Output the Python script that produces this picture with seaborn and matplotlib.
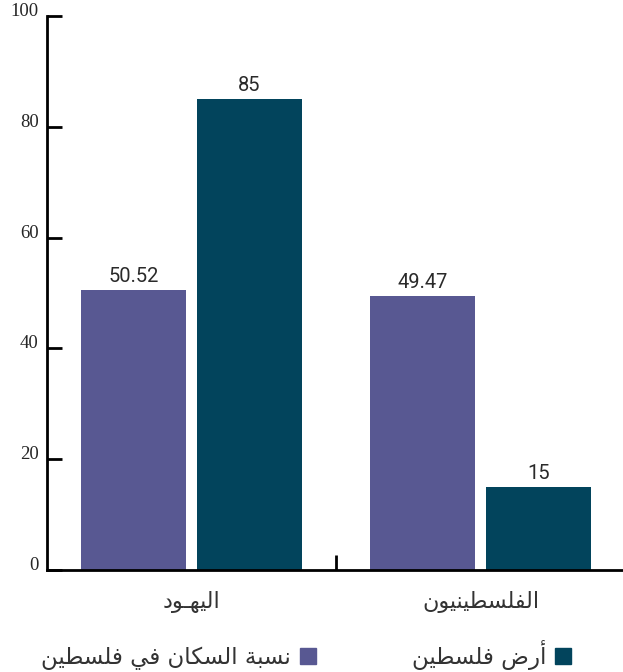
import pandas as pd
import matplotlib.pyplot as plt
from matplotlib.lines import Line2D
import seaborn as sns

# Data
groups = ['اليهـود', 'الفلسطينيون']
series = ['نسبة السكان في فلسطين', 'أرض فلسطين']
population_share = [50.52, 49.47]
land_share = [85, 15]
colors = ['#585892', '#02445c']

# matplotlib does no Arabic shaping, so pick presentation forms by hand
# (isolated, final, initial, medial)
FORMS = {
    'ا': ('\ufe8d', '\ufe8e', None, None),
    'أ': ('\ufe83', '\ufe84', None, None),
    'ب': ('\ufe8f', '\ufe90', '\ufe91', '\ufe92'),
    'ة': ('\ufe93', '\ufe94', None, None),
    'د': ('\ufea9', '\ufeaa', None, None),
    'ر': ('\ufead', '\ufeae', None, None),
    'س': ('\ufeb1', '\ufeb2', '\ufeb3', '\ufeb4'),
    'ض': ('\ufebd', '\ufebe', '\ufebf', '\ufec0'),
    'ط': ('\ufec1', '\ufec2', '\ufec3', '\ufec4'),
    'ف': ('\ufed1', '\ufed2', '\ufed3', '\ufed4'),
    'ك': ('\ufed9', '\ufeda', '\ufedb', '\ufedc'),
    'ل': ('\ufedd', '\ufede', '\ufedf', '\ufee0'),
    'ن': ('\ufee5', '\ufee6', '\ufee7', '\ufee8'),
    'ه': ('\ufee9', '\ufeea', '\ufeeb', '\ufeec'),
    'و': ('\ufeed', '\ufeee', None, None),
    'ي': ('\ufef1', '\ufef2', '\ufef3', '\ufef4'),
    'ـ': ('ـ', 'ـ', 'ـ', 'ـ'),
}


def joins_next(c):
    return c in FORMS and FORMS[c][2] is not None


def shape(text):
    out = []
    for i, c in enumerate(text):
        if c not in FORMS:
            out.append(c)
            continue
        prev = text[i - 1] if i > 0 else ''
        nxt = text[i + 1] if i + 1 < len(text) else ''
        a = joins_next(prev)
        b = joins_next(c) and nxt in FORMS
        iso, fin, ini, med = FORMS[c]
        if a and b:
            out.append(med)
        elif a:
            out.append(fin)
        elif b:
            out.append(ini)
        else:
            out.append(iso)
    return ''.join(out)[::-1]


df = pd.DataFrame({
    'group': groups * 2,
    'series': [series[0]] * 2 + [series[1]] * 2,
    'value': population_share + land_share,
})

sns.set_style("white")
plt.rcParams['font.family'] = ['DejaVu Sans']

fig = plt.figure(figsize=(6.23, 6.72), dpi=100)
ax = fig.add_axes([47 / 623, 102 / 672, 578 / 623, 554 / 672])

sns.barplot(
    data=df, x='group', y='value', hue='series',
    palette=colors, width=0.8, gap=0.095, saturation=1,
    linewidth=0, legend=False, ax=ax
)

for cont in ax.containers:
    ax.bar_label(cont, fmt='%g', padding=3, fontsize=14.5,
                 color='#2a2a2a', family=['Roboto', 'DejaVu Sans'])

ax.set_xlim(-0.5, 1.5)
ax.set_ylim(0, 100)
ax.set_xlabel('')
ax.set_ylabel('')

# y axis
ax.set_yticks([0, 20, 40, 60, 80, 100])
ax.tick_params(axis='y', left=True, direction='in', length=11, width=2,
               color='black', pad=6, labelsize=13.5)
for lab in ax.get_yticklabels():
    lab.set_family(['Liberation Serif'])
    lab.set_verticalalignment('baseline')

# x axis: category labels and a divider tick between the groups
ax.set_xticks([0, 1])
ax.set_xticklabels([shape(g) for g in groups], fontsize=16, color='#333333')
ax.set_xticks([0.5], minor=True)
ax.tick_params(axis='x', which='major', length=0, pad=15)
ax.tick_params(axis='x', which='minor', bottom=True, direction='in',
               length=11, width=2, color='black')

sns.despine(ax=ax)
for side in ['left', 'bottom']:
    ax.spines[side].set_color('black')
    ax.spines[side].set_linewidth(2)

# legend
handles = [Line2D([], [], marker='s', linestyle='', markersize=11,
                  color=c) for c in colors]
fig.legend(handles, [shape(s) for s in series], loc='center',
           bbox_to_anchor=(306 / 623, 1 - 655 / 672), ncol=2,
           frameon=False, markerfirst=False, handlelength=0.7,
           handletextpad=0.4, columnspacing=4.2,
           prop={'size': 16.5}, labelcolor='#333333')

fig.savefig('out.png', dpi=100)
